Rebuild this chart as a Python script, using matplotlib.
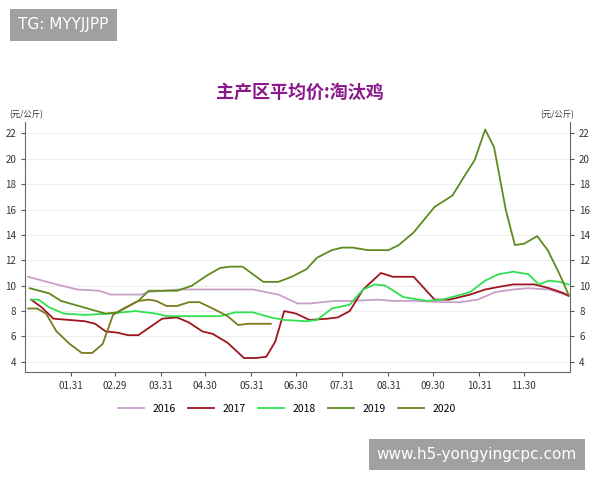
import matplotlib.pyplot as plt

plt.rcParams['font.family'] = ['Noto Sans CJK SC', 'DejaVu Sans']

d2016 = [2, 21, 35, 50, 57, 78, 83, 102, 153, 170, 183, 191, 208, 220, 237, 247, 261, 280, 292, 304, 316, 328, 338, 352, 365]
v2016 = [10.7, 10.1, 9.7, 9.6, 9.3, 9.3, 9.5, 9.7, 9.7, 9.3, 8.6, 8.6, 8.8, 8.8, 8.9, 8.8, 8.8, 8.7, 8.7, 8.9, 9.5, 9.7, 9.8, 9.7, 9.2]
d2017 = [4, 11, 19, 40, 47, 54, 62, 69, 76, 92, 102, 110, 119, 126, 136, 147, 155, 162, 168, 174, 182, 191, 203, 210, 218, 227, 239, 247, 261, 275, 285, 299, 309, 318, 328, 342, 352, 362, 365]
v2017 = [8.9, 8.3, 7.4, 7.2, 7.0, 6.4, 6.3, 6.1, 6.1, 7.4, 7.5, 7.1, 6.4, 6.2, 5.5, 4.3, 4.3, 4.4, 5.6, 8.0, 7.8, 7.3, 7.4, 7.5, 8.0, 9.7, 11.0, 10.7, 10.7, 8.9, 8.9, 9.3, 9.7, 9.9, 10.1, 10.1, 9.8, 9.4, 9.2]
d2018 = [4, 9, 16, 26, 40, 57, 74, 88, 95, 131, 141, 153, 165, 174, 189, 196, 206, 218, 227, 235, 242, 254, 270, 280, 290, 299, 309, 318, 328, 338, 345, 352, 359, 365]
v2018 = [8.9, 8.9, 8.3, 7.8, 7.7, 7.8, 8.0, 7.8, 7.6, 7.6, 7.9, 7.9, 7.5, 7.3, 7.2, 7.3, 8.2, 8.5, 9.7, 10.1, 10.0, 9.1, 8.8, 8.9, 9.2, 9.5, 10.4, 10.9, 11.1, 10.9, 10.1, 10.4, 10.3, 10.1]
d2019 = [3, 16, 24, 33, 54, 62, 76, 83, 102, 112, 122, 131, 138, 146, 160, 170, 179, 189, 196, 206, 213, 220, 230, 244, 251, 261, 275, 287, 296, 302, 309, 315, 323, 329, 335, 344, 351, 359, 365]
v2019 = [9.8, 9.4, 8.8, 8.5, 7.8, 7.9, 8.8, 9.6, 9.6, 10.0, 10.8, 11.4, 11.5, 11.5, 10.3, 10.3, 10.7, 11.3, 12.2, 12.8, 13.0, 13.0, 12.8, 12.8, 13.2, 14.2, 16.2, 17.1, 18.8, 19.9, 22.3, 20.9, 15.9, 13.2, 13.3, 13.9, 12.8, 10.9, 9.3]
d2020 = [2, 8, 14, 21, 30, 38, 45, 52, 59, 66, 76, 83, 88, 95, 102, 110, 117, 126, 136, 143, 150, 165]
v2020 = [8.2, 8.2, 7.8, 6.4, 5.4, 4.7, 4.7, 5.4, 7.7, 8.2, 8.8, 8.9, 8.8, 8.4, 8.4, 8.7, 8.7, 8.2, 7.6, 6.9, 7.0, 7.0]

tick_days = [31, 60, 91, 121, 152, 182, 213, 244, 274, 305, 335]
tick_labels = ['01.31', '02.29', '03.31', '04.30', '05.31', '06.30', '07.31', '08.31', '09.30', '10.31', '11.30']

fig = plt.figure(figsize=(6, 4.8), dpi=100)
ax = fig.add_axes([0.042, 0.225, 0.908, 0.521])

ax.plot(d2016, v2016, color='#c8a0c8', lw=1.3, label='2016')
ax.plot(d2017, v2017, color='#a01420', lw=1.3, label='2017')
ax.plot(d2018, v2018, color='#30e050', lw=1.3, label='2018')
ax.plot(d2019, v2019, color='#5e8a1e', lw=1.3, label='2019')
ax.plot(d2020, v2020, color='#7a7a1e', lw=1.3, label='2020')

ax.set_xlim(0, 366)
ax.set_ylim(3.2, 22.9)
ax.set_yticks(range(4, 23, 2))
ax.set_xticks(tick_days)
ax.set_xticklabels(tick_labels)
ax.tick_params(labelsize=7, length=3, color='#555555', labelcolor='#333333')
ax.tick_params(axis='y', right=True, labelright=True)
ax.grid(axis='y', color='#eeeeee', lw=0.8)
ax.spines['top'].set_visible(False)
for s in ['left', 'right', 'bottom']:
    ax.spines[s].set_color('#666666')

fig.text(0.015, 0.755, '(元/公斤)', fontsize=6, color='#333333')
fig.text(0.9, 0.755, '(元/公斤)', fontsize=6, color='#333333')
fig.text(0.5, 0.797, '主产区平均价:淘汰鸡', fontsize=13, fontweight='bold', color='#8a1a8a', ha='center')

ax.legend(loc='upper center', bbox_to_anchor=(0.48, -0.09), ncol=5, frameon=False,
          fontsize=7.5, handlelength=2.5, columnspacing=1.2)

fig.text(0.03, 0.948, 'TG: MYYJJPP', fontsize=11, color='white', va='center', family='DejaVu Sans',
         bbox=dict(boxstyle='square,pad=0.55', fc='#a0a0a0', ec='none'))
fig.text(0.628, 0.053, 'www.h5-yongyingcpc.com', fontsize=11, color='white', va='center', family='DejaVu Sans',
         bbox=dict(boxstyle='square,pad=0.5', fc='#a0a0a0', ec='none'))

fig.savefig('out.png', dpi=100)
